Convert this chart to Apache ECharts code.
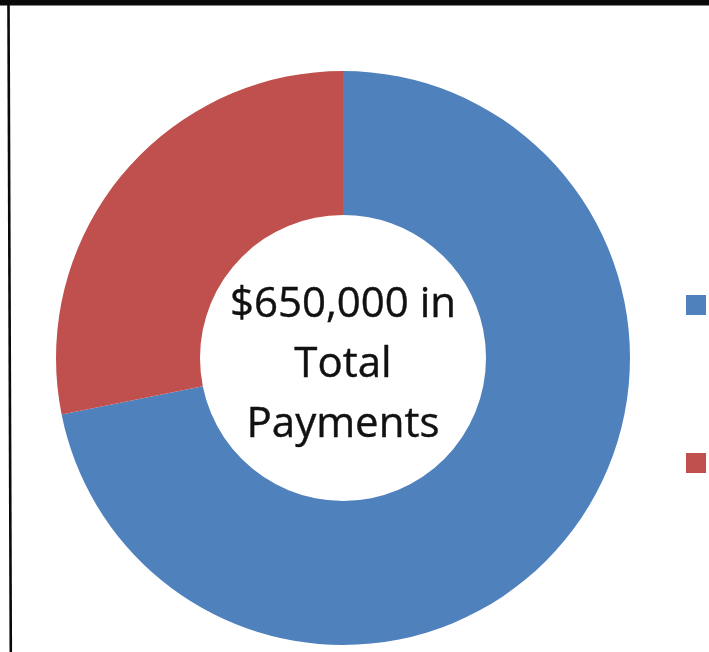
<!DOCTYPE html>
<html>
<head>
<meta charset="utf-8">
<title>Total Payments</title>
<script src="https://cdn.jsdelivr.net/npm/echarts@6/dist/echarts.min.js"></script>
<style>
  html, body { margin: 0; padding: 0; background: #ffffff; }
  #chart { width: 709px; height: 652px; }
</style>
</head>
<body>
<div id="chart"></div>
<script>
// Payment breakdown (USD)
const categories = ['Principal', 'Interest'];
const amounts = [467000, 183000];
const sliceColors = ['#4F81BD', '#C0504D'];
const centerLines = ['$650,000 in', 'Total', 'Payments'];

const chart = echarts.init(document.getElementById('chart'), null, { renderer: 'canvas' });

const fmt = v => '$' + v.toLocaleString('en-US');

chart.setOption({
  animation: false,
  backgroundColor: '#ffffff',
  color: sliceColors,
  legend: {
    orient: 'vertical',
    left: 681,
    top: 264,
    itemWidth: 20,
    itemHeight: 20,
    itemGap: 86,
    icon: 'rect',
    data: categories,
    formatter: name => name + '\n' + fmt(amounts[categories.indexOf(name)]),
    textStyle: {
      fontFamily: 'Open Sans',
      fontSize: 26,
      lineHeight: 36,
      color: '#1a1a1a'
    }
  },
  graphic: [
    {
      type: 'rect',
      shape: { x: 0, y: 0, width: 709, height: 5.5 },
      style: { fill: '#0a0a0a' },
      z: 10
    },
    {
      type: 'line',
      shape: { x1: 8.5, y1: 5, x2: 10.8, y2: 652 },
      style: { stroke: '#0a0a0a', lineWidth: 2.6 },
      z: 10
    },
    {
      type: 'text',
      z: 5,
      style: {
        text: centerLines.join('\n'),
        x: 343,
        y: 365,
        align: 'center',
        verticalAlign: 'middle',
        fontFamily: 'Open Sans',
        fontSize: 42,
        lineHeight: 60,
        fill: '#111111',
        stroke: '#111111',
        lineWidth: 0.4
      }
    }
  ],
  series: [
    {
      type: 'pie',
      center: [343, 358],
      radius: [143, 287],
      startAngle: 90,
      clockwise: true,
      avoidLabelOverlap: false,
      label: { show: false },
      labelLine: { show: false },
      emphasis: { disabled: true },
      itemStyle: { borderWidth: 0 },
      data: categories.map((name, i) => ({ name, value: amounts[i] }))
    }
  ]
});
</script>
</body>
</html>
